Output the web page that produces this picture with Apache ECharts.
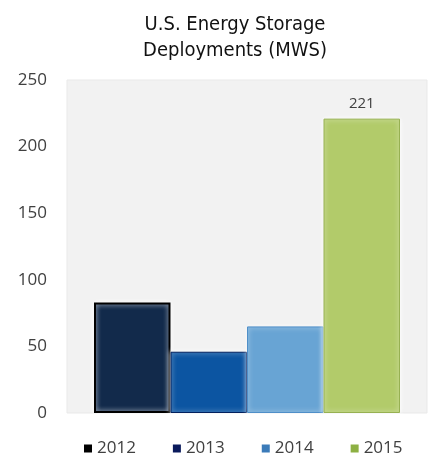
<!DOCTYPE html>
<html>
<head>
<meta charset="utf-8">
<script src="https://cdn.jsdelivr.net/npm/echarts@6/dist/echarts.min.js"></script>
<style>
  html, body { margin: 0; padding: 0; background: #fff; }
  #chart { width: 429px; height: 459px; }
</style>
</head>
<body>
<div id="chart"></div>
<script>
var years = ['2012', '2013', '2014', '2015'];
var values = [83, 46, 65, 221];
var yTicks = [0, 50, 100, 150, 200, 250];
var barColors = ['#122a4b', '#0c55a2', '#68a4d4', '#b2cb6a'];
var barBorders = ['#000000', '#02205e', '#4f8fc8', '#97b152'];
var legendColors = ['#000000', '#0a1a5c', '#3b7bb9', '#8db043'];

var myChart = echarts.init(document.getElementById('chart'));

var series = years.map(function (y, i) {
    return {
        name: y,
        type: 'bar',
        barGap: 0,
        barCategoryGap: '15%',
        data: [values[i]],
        itemStyle: {
            color: barColors[i],
            borderColor: barBorders[i],
            borderWidth: i === 0 ? 2 : 1,
            shadowColor: 'rgba(255,255,255,0.9)',
            shadowBlur: 5
        },
        label: {
            show: i === 3,
            position: 'top',
            distance: 7,
            color: '#404040',
            fontSize: 15,
            fontFamily: 'Open Sans'
        }
    };
});

option = {
    animation: false,
    title: {
        text: 'U.S. Energy Storage\nDeployments (MWS)',
        left: 230,
        textAlign: 'center',
        top: 7,
        textStyle: {
            fontFamily: 'Liberation Sans Narrow, DejaVu Sans Condensed, sans-serif',
            fontWeight: 'normal',
            fontSize: 20,
            lineHeight: 26,
            color: '#111'
        }
    },
    legend: {
        data: years.map(function (y, i) {
            return { name: y, itemStyle: { color: legendColors[i], borderWidth: 0 } };
        }),
        bottom: -3,
        left: 79,
        icon: 'rect',
        itemWidth: 8,
        itemHeight: 8,
        itemGap: 37,
        textStyle: {
            fontFamily: 'Open Sans',
            fontSize: 17,
            color: '#404040'
        }
    },
    grid: {
        left: 67,
        right: 2,
        top: 80,
        bottom: 46,
        show: true,
        backgroundColor: '#f2f2f2',
        borderColor: '#e9e9e9',
        borderWidth: 1
    },
    xAxis: {
        type: 'category',
        data: ['Deployments'],
        axisLine: { show: false },
        axisTick: { show: false },
        axisLabel: { show: false }
    },
    yAxis: {
        type: 'value',
        min: yTicks[0],
        max: yTicks[yTicks.length - 1],
        interval: 50,
        axisLine: { show: false },
        axisTick: { show: false },
        splitLine: { show: false },
        axisLabel: {
            margin: 20,
            fontFamily: 'Open Sans',
            fontSize: 17,
            color: '#404040'
        }
    },
    series: series
};
myChart.setOption(option);
window.onresize = myChart.resize;
</script>
</body>
</html>
